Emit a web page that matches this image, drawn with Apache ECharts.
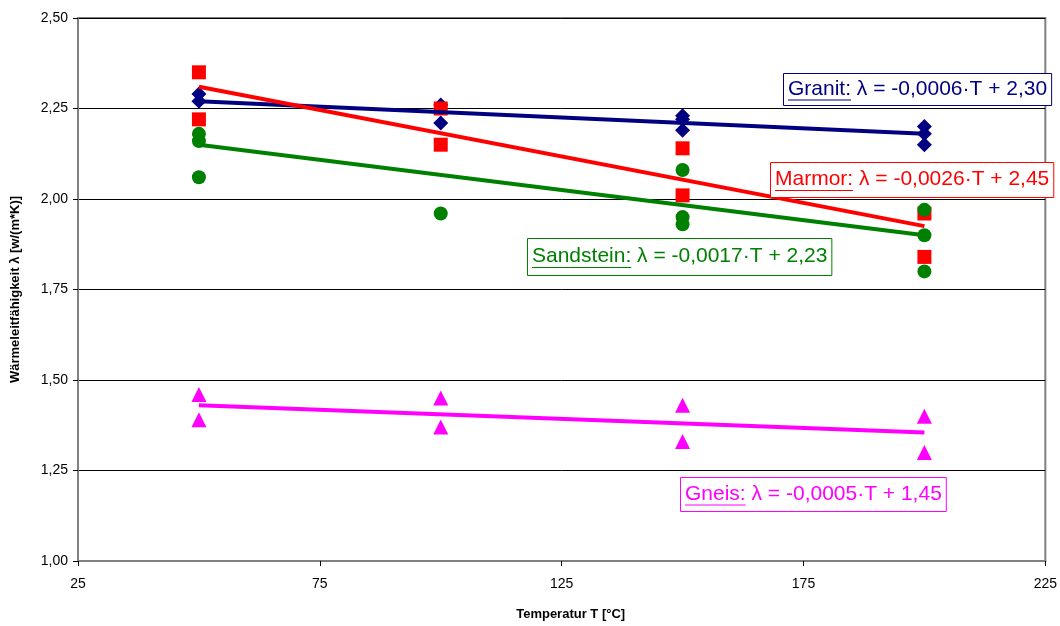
<!DOCTYPE html>
<html><head><meta charset="utf-8">
<script src="https://cdn.jsdelivr.net/npm/echarts@6/dist/echarts.min.js"></script>
<style>html,body{margin:0;padding:0;background:#fff}#c{width:1060px;height:626px}</style>
</head><body><div id="c"></div>
<script>
// Measurements: [T, lambda]
const granit = [[50,2.29],[50,2.27],[100,2.26],[100,2.21],[150,2.23],[150,2.22],[150,2.19],[200,2.20],[200,2.18],[200,2.15]];
const marmor = [[50,2.35],[50,2.22],[100,2.25],[100,2.15],[150,2.14],[150,2.01],[200,1.96],[200,1.84]];
const sandstein = [[50,2.18],[50,2.16],[50,2.06],[100,1.96],[150,2.08],[150,1.95],[150,1.93],[200,1.97],[200,1.90],[200,1.80]];
const gneis = [[50,1.46],[50,1.39],[100,1.45],[100,1.37],[150,1.43],[150,1.33],[200,1.40],[200,1.30]];
// Trend line end points
const granitTrend = [[50,2.27],[200,2.18]];
const marmorTrend = [[50,2.31],[200,1.925]];
const sandsteinTrend = [[50,2.15],[200,1.90]];
const gneisTrend = [[50,1.43],[200,1.355]];
const xTicks = [25,75,125,175,225];
const yTicks = [1.00,1.25,1.50,1.75,2.00,2.25,2.50];
const labels = [
  {name:'Granit:', eq:' λ = -0,0006·T + 2,30', color:'#000080'},
  {name:'Marmor:', eq:' λ = -0,0026·T + 2,45', color:'#ff0000'},
  {name:'Sandstein:', eq:' λ = -0,0017·T + 2,23', color:'#008000'},
  {name:'Gneis:', eq:' λ = -0,0005·T + 1,45', color:'#ff00ff'}
];
const boxPos = [[783,73,32],[770,162,35],[527,238,37],[680,477,34]];

const chart = echarts.init(document.getElementById('c'));
const FONT = '"Liberation Sans", Arial, sans-serif';
const LF = '21px ' + FONT;
const cv = document.createElement('canvas').getContext('2d');
cv.font = LF;
const graphics = [];
labels.forEach((l,i)=>{
  const [x,y,h] = boxPos[i];
  const nw = cv.measureText(l.name).width;
  const ew = cv.measureText(l.eq).width;
  const w = Math.min(nw + ew + 9, 1059 - x);
  const tx = x + 5, cy = y + h/2;
  graphics.push({type:'rect', left:x, top:y, shape:{width:w,height:h}, style:{fill:'#fff', stroke:l.color, lineWidth:1}, z:10});
  graphics.push({type:'text', x:tx, y:cy, style:{text:l.name, fill:l.color, font:LF, textVerticalAlign:'middle', verticalAlign:'middle'}, z:11});
  graphics.push({type:'text', x:tx+nw, y:cy, style:{text:l.eq, fill:l.color, font:LF, textVerticalAlign:'middle', verticalAlign:'middle'}, z:11});
  graphics.push({type:'line', shape:{x1:tx, y1:cy+11, x2:tx+nw, y2:cy+11}, style:{stroke:l.color, lineWidth:1.2}, z:11});
});

function sc(data, symbol, color, size){
  return {type:'scatter', data, symbol, symbolSize:size, itemStyle:{color, opacity:1}, z:3};
}
function tl(data, color){
  return {type:'line', data, showSymbol:false, lineStyle:{color, width:4}, itemStyle:{color}, z:4, silent:true};
}
chart.setOption({
  animation:false,
  backgroundColor:'#fff',
  grid:{left:78, right:12, top:18, bottom:61, show:true, borderColor:'#808080', borderWidth:2},
  xAxis:{type:'value', min:25, max:225, interval:50,
    name:'Temperatur T [°C]', nameLocation:'middle', nameGap:47,
    nameTextStyle:{fontFamily:FONT, fontWeight:'bold', fontSize:13, color:'#000', padding:[0,0,0,18]},
    axisLine:{lineStyle:{color:'#808080', width:2}},
    axisTick:{show:true, length:5, lineStyle:{color:'#000'}},
    axisLabel:{fontFamily:FONT, fontSize:14, color:'#000', margin:16,
      formatter:v=>String(v)},
    splitLine:{show:false}},
  yAxis:{type:'value', min:1.00, max:2.50, interval:0.25,
    name:'Wärmeleitfähigkeit λ [w/(m*K)]', nameLocation:'middle', nameGap:56,
    nameTextStyle:{fontFamily:FONT, fontWeight:'bold', fontSize:13, color:'#000'},
    axisLine:{show:true, lineStyle:{color:'#808080', width:2}},
    axisTick:{show:true, length:5, lineStyle:{color:'#000'}},
    axisLabel:{fontFamily:FONT, fontSize:14, color:'#000', margin:10,
      formatter:v=>v.toFixed(2).replace('.',',')},
    splitLine:{show:true, lineStyle:{color:'#000', width:1}}},
  series:[
    sc(granit,'diamond','#000080',15),
    sc(marmor,'rect','#ff0000',14),
    sc(sandstein,'circle','#008000',14),
    sc(gneis,'triangle','#ff00ff',15),
    tl(granitTrend,'#000080'),
    tl(marmorTrend,'#ff0000'),
    tl(sandsteinTrend,'#008000'),
    tl(gneisTrend,'#ff00ff')
  ],
  graphic:graphics
});
</script>
</body></html>
